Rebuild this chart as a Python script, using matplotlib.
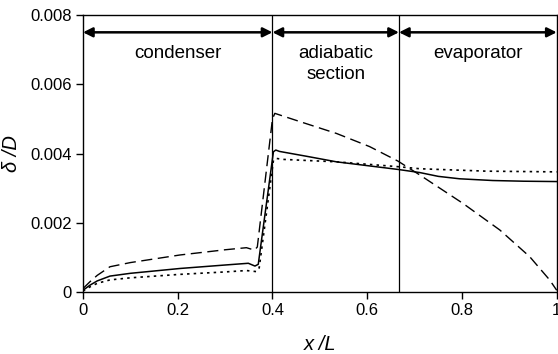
import matplotlib
matplotlib.use("Agg")
import matplotlib.pyplot as plt
import numpy as np

plt.rcParams['font.family'] = ['Liberation Sans', 'DejaVu Sans']

# film thickness profiles along the heat pipe
x_solid = [0.0, 0.015, 0.03, 0.057, 0.1, 0.205, 0.3, 0.349, 0.363, 0.37, 0.402, 0.407, 0.415,
           0.472, 0.535, 0.6, 0.665, 0.711, 0.75, 0.795, 0.865, 0.93, 1.0]
y_solid = [0.00005, 0.0002, 0.00032, 0.00046, 0.00054, 0.00068, 0.00078, 0.00083, 0.00075, 0.0008,
           0.00405, 0.0041, 0.00406, 0.00392, 0.00376, 0.00365, 0.00354, 0.00345, 0.00334, 0.00327,
           0.00322, 0.0032, 0.00319]

x_dash = [0.0, 0.015, 0.03, 0.057, 0.1, 0.205, 0.3, 0.345, 0.362, 0.368, 0.40, 0.405, 0.416,
          0.465, 0.535, 0.605, 0.665, 0.711, 0.802, 0.88, 0.943, 0.985, 1.0]
y_dash = [0.0001, 0.0003, 0.00048, 0.00073, 0.00085, 0.00107, 0.00122, 0.00128, 0.00121, 0.0013,
          0.0050, 0.00516, 0.00511, 0.00489, 0.00458, 0.0042, 0.00378, 0.00338, 0.00256, 0.00179,
          0.00102, 0.00035, 0.00005]

x_dot = [0.0, 0.015, 0.03, 0.057, 0.1, 0.205, 0.3, 0.345, 0.366, 0.372, 0.402, 0.407, 0.423,
         0.535, 0.665, 0.711, 0.852, 1.0]
y_dot = [0.00003, 0.00015, 0.00025, 0.00035, 0.00041, 0.00051, 0.00058, 0.00062, 0.00059, 0.0007,
         0.0038, 0.00386, 0.00383, 0.00376, 0.00362, 0.00356, 0.00349, 0.00347]

bounds = [0.0, 0.4, 0.667, 1.0]
regions = ['condenser', 'adiabatic\nsection', 'evaporator']

fig = plt.figure(figsize=(5.58, 3.54), dpi=100)
ax = fig.add_axes([0.1487, 0.1751, 0.849, 0.7825])

ax.plot(x_solid, y_solid, color='black', lw=1.1)
ax.plot(x_dash, y_dash, color='black', lw=1.0, dashes=(8, 4))
ax.plot(x_dot, y_dot, color='black', lw=1.2, dashes=(1.5, 2.5))

for b in bounds[1:3]:
    ax.axvline(b, color='black', lw=0.9)

arrow_y = 0.0075
for i, name in enumerate(regions):
    ax.annotate('', xy=(bounds[i], arrow_y), xytext=(bounds[i + 1], arrow_y),
                arrowprops=dict(arrowstyle='<|-|>', color='black', lw=1.8,
                                mutation_scale=14, shrinkA=0, shrinkB=0))
    mid = (bounds[i] + bounds[i + 1]) / 2
    ax.text(mid, 0.00712, name, ha='center', va='top', fontsize=13.5, linespacing=1.3)

ax.set_xlim(0, 1)
ax.set_ylim(0, 0.008)
ax.set_xticks([0, 0.2, 0.4, 0.6, 0.8, 1.0])
ax.set_xticklabels(['0', '0.2', '0.4', '0.6', '0.8', '1'])
ax.set_yticks([0, 0.002, 0.004, 0.006, 0.008])
ax.set_yticklabels(['0', '0.002', '0.004', '0.006', '0.008'])
ax.tick_params(labelsize=12, length=5, width=1, direction='out', pad=3)
for s in ax.spines.values():
    s.set_linewidth(1.0)

ax.set_xlabel('x /L', fontsize=14.5, style='italic', labelpad=12)
ax.set_ylabel('δ /D', fontsize=14.5, style='italic', labelpad=7)

fig.savefig('out.png', dpi=100)
